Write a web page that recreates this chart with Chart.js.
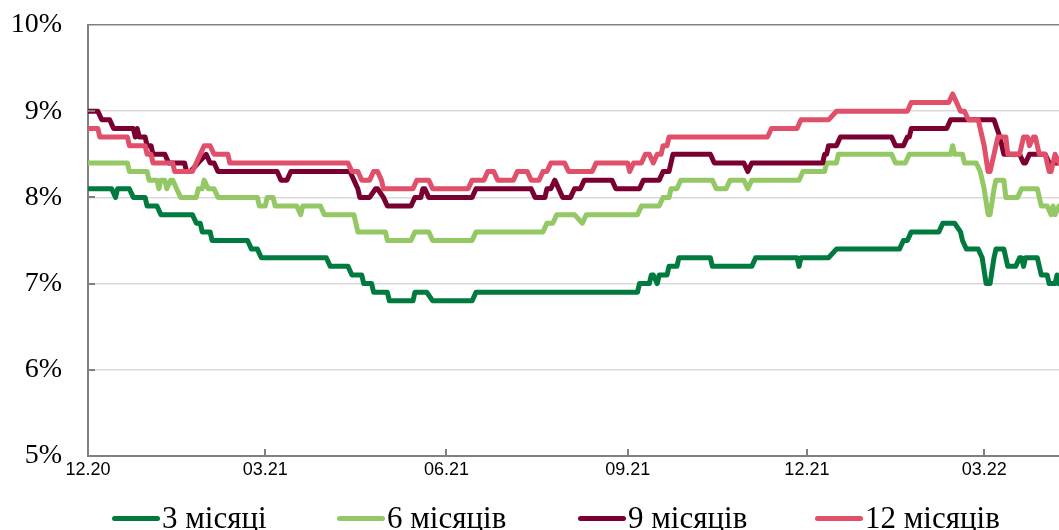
<!DOCTYPE html>
<html>
<head>
<meta charset="utf-8">
<script src="https://cdn.jsdelivr.net/npm/chart.js@4/dist/chart.umd.min.js"></script>
<style>
  html, body { margin: 0; padding: 0; background: #fff; overflow: hidden; }
  #wrap { position: relative; width: 1059px; height: 530px; }
  #legend .sw { position: absolute; width: 48px; height: 5px; border-radius: 3px; top: 516px; }
  #legend .tx { position: absolute; top: 500px; font-family: 'Liberation Serif', 'Times New Roman', serif; font-size: 31px; line-height: 36px; color: #000; white-space: nowrap; }
</style>
</head>
<body>
<div id="wrap">
  <canvas id="c" width="1059" height="530"></canvas>
  <div id="legend"></div>
</div>
<script>
// x values are days since 01.12.2020
const seriesNames = ['3 місяці', '6 місяців', '9 місяців', '12 місяців'];
const tickDays = [0, 90, 182, 274, 365, 455];
const tickLabels = ['12.20', '03.21', '06.21', '09.21', '12.21', '03.22'];
const yTicks = [5, 6, 7, 8, 9, 10];

const days3 = [0,12,14,15,21,23,29,30,35,37,53,55,57,58,62,63,81,83,86,88,121,123,132,134,139,140,144,145,152,153,165,166,172,175,195,197,279,280,285,286,287,289,290,294,295,299,300,316,317,337,339,360,361,362,376,380,412,414,416,418,432,434,440,443,444,446,452,454,456,458,460,461,465,467,471,473,474,475,476,482,484,487,488,491,492,493];
const rate3 = [8.1,8.1,8.0,8.1,8.1,8.0,8.0,7.9,7.9,7.8,7.8,7.7,7.7,7.6,7.6,7.5,7.5,7.4,7.4,7.3,7.3,7.2,7.2,7.1,7.1,7.0,7.0,6.9,6.9,6.8,6.8,6.9,6.9,6.8,6.8,6.9,6.9,7.0,7.0,7.1,7.1,7.0,7.1,7.1,7.2,7.2,7.3,7.3,7.2,7.2,7.3,7.3,7.2,7.3,7.3,7.4,7.4,7.5,7.5,7.6,7.6,7.7,7.7,7.6,7.5,7.4,7.4,7.3,7.0,7.0,7.3,7.4,7.4,7.2,7.2,7.3,7.3,7.2,7.3,7.3,7.1,7.1,7.0,7.0,7.1,7.0];

const days6 = [0,20,21,30,31,35,36,37,39,40,42,43,45,47,55,56,58,59,61,64,66,86,87,90,91,94,95,106,108,109,118,120,135,136,137,151,152,164,166,173,175,195,197,231,233,236,238,247,251,253,279,281,290,292,295,296,299,301,317,319,324,326,333,335,337,361,363,374,375,380,381,408,410,415,417,438,439,440,444,445,451,453,455,457,458,460,461,465,466,472,474,482,484,487,489,490,491,493];
const rate6 = [8.4,8.4,8.3,8.3,8.2,8.2,8.1,8.2,8.2,8.1,8.2,8.2,8.1,8.0,8.0,8.1,8.1,8.2,8.1,8.1,8.0,8.0,7.9,7.9,8.0,8.0,7.9,7.9,7.8,7.9,7.9,7.8,7.8,7.7,7.6,7.6,7.5,7.5,7.6,7.6,7.5,7.5,7.6,7.6,7.7,7.7,7.8,7.8,7.7,7.8,7.8,7.9,7.9,8.0,8.0,8.1,8.1,8.2,8.2,8.1,8.1,8.2,8.2,8.1,8.2,8.2,8.3,8.3,8.4,8.4,8.5,8.5,8.4,8.4,8.5,8.5,8.6,8.5,8.5,8.4,8.4,8.3,8.1,7.8,7.8,8.1,8.2,8.2,8.0,8.0,8.1,8.1,7.9,7.9,7.8,7.9,7.8,7.9];

const days9 = [0,5,7,11,13,23,24,25,26,29,30,32,33,39,41,49,50,52,56,60,62,64,66,96,98,101,103,133,135,137,138,143,146,147,150,152,164,166,169,170,171,173,195,197,225,227,232,233,235,237,239,241,245,247,250,252,266,268,280,282,290,292,295,297,316,318,333,335,337,373,374,375,376,380,382,408,410,414,416,417,418,436,438,460,463,465,473,475,476,478,486,488,493];
const rate9 = [9.0,9.0,8.9,8.9,8.8,8.8,8.7,8.8,8.7,8.7,8.6,8.6,8.5,8.5,8.4,8.4,8.3,8.3,8.4,8.5,8.4,8.4,8.3,8.3,8.2,8.2,8.3,8.3,8.2,8.1,8.0,8.0,8.1,8.1,8.0,7.9,7.9,8.0,8.0,8.1,8.1,8.0,8.0,8.1,8.1,8.0,8.0,8.1,8.1,8.2,8.1,8.0,8.0,8.1,8.1,8.2,8.2,8.1,8.1,8.2,8.2,8.3,8.3,8.5,8.5,8.4,8.4,8.3,8.4,8.4,8.5,8.5,8.6,8.6,8.7,8.7,8.6,8.6,8.7,8.7,8.8,8.8,8.9,8.9,8.7,8.5,8.5,8.4,8.4,8.5,8.5,8.4,8.4];

const days12 = [0,5,6,20,21,29,30,32,33,43,44,53,55,57,59,62,64,71,72,132,134,137,139,143,145,147,149,150,165,167,173,175,193,195,201,203,206,208,216,218,223,225,229,231,233,235,242,244,256,258,274,275,277,281,283,285,287,289,291,292,294,295,345,347,360,362,376,380,416,418,437,439,441,443,445,447,452,453,455,457,458,460,461,462,466,467,473,475,477,478,480,481,483,486,488,489,491,493];
const rate12 = [8.8,8.8,8.7,8.7,8.6,8.6,8.5,8.5,8.4,8.4,8.3,8.3,8.4,8.5,8.6,8.6,8.5,8.5,8.4,8.4,8.3,8.3,8.2,8.2,8.3,8.3,8.2,8.1,8.1,8.2,8.2,8.1,8.1,8.2,8.2,8.3,8.3,8.2,8.2,8.3,8.3,8.2,8.2,8.3,8.3,8.4,8.4,8.3,8.3,8.4,8.4,8.3,8.4,8.4,8.5,8.5,8.4,8.5,8.5,8.6,8.6,8.7,8.7,8.8,8.8,8.9,8.9,9.0,9.0,9.1,9.1,9.2,9.1,9.0,9.0,8.9,8.9,8.8,8.6,8.3,8.3,8.5,8.6,8.7,8.7,8.5,8.5,8.7,8.7,8.6,8.7,8.7,8.5,8.5,8.3,8.3,8.5,8.4];

const seriesDays = [days3, days6, days9, days12];
const seriesRates = [rate3, rate6, rate9, rate12];
const colors = ['#007A3E', '#93C865', '#7B0032', '#E0506A'];

const datasets = seriesNames.map((name, i) => ({
  label: name,
  data: seriesDays[i].map((d, j) => ({ x: d, y: seriesRates[i][j] })),
  borderColor: colors[i],
  backgroundColor: colors[i],
  borderWidth: 5,
  pointRadius: 0,
  tension: 0,
  borderJoinStyle: 'round',
  borderCapStyle: 'round',
  order: 4 - i
}));

const AXIS = '#808080';
const innerTicks = {
  id: 'innerTicks',
  afterDraw(chart) {
    const { ctx, chartArea: a, scales: { x, y } } = chart;
    ctx.save();
    ctx.strokeStyle = AXIS;
    ctx.lineWidth = 2;
    ctx.beginPath();
    yTicks.forEach(v => {
      if (v === 5 || v === 10) return;
      const py = Math.round(y.getPixelForValue(v));
      ctx.moveTo(a.left, py); ctx.lineTo(a.left + 7, py);
    });
    tickDays.forEach((d, i) => {
      if (i === 0) return;
      const px = Math.round(x.getPixelForValue(d));
      ctx.moveTo(px, a.bottom); ctx.lineTo(px, a.bottom - 7);
    });
    ctx.stroke();
    ctx.restore();
  }
};

new Chart(document.getElementById('c'), {
  type: 'line',
  data: { datasets },
  plugins: [innerTicks],
  options: {
    responsive: false,
    animation: false,
    devicePixelRatio: 1,
    layout: { padding: { top: 25, right: 0, bottom: 0, left: 0 } },
    plugins: { legend: { display: false }, tooltip: { enabled: false } },
    scales: {
      x: {
        type: 'linear',
        min: 0,
        max: 493,
        afterBuildTicks: s => { s.ticks = tickDays.map(v => ({ value: v })); },
        afterFit: s => { s.height = 74; s.paddingLeft = 0; s.paddingRight = 0; },
        grid: { display: false, drawTicks: false },
        border: { display: true, color: AXIS, width: 2 },
        ticks: {
          autoSkip: false,
          maxRotation: 0,
          padding: 3,
          color: '#000',
          font: { family: "'Liberation Sans', Arial, sans-serif", size: 18 },
          callback: (v, i) => tickLabels[i]
        }
      },
      y: {
        min: 5,
        max: 10,
        afterBuildTicks: s => { s.ticks = yTicks.map(v => ({ value: v })); },
        afterFit: s => { s.width = 88; s.paddingTop = 0; s.paddingBottom = 0; },
        grid: {
          drawTicks: false,
          lineWidth: 1.5,
          color: c => (c.tick && c.tick.value === 10) ? AXIS : (c.tick && c.tick.value === 5 ? 'rgba(0,0,0,0)' : '#D9D9D9')
        },
        border: { display: true, color: AXIS, width: 2 },
        ticks: {
          padding: 26,
          color: '#000',
          font: { family: "'Liberation Serif', 'Times New Roman', serif", size: 28 },
          callback: v => v + '%'
        }
      }
    }
  }
});

// legend (HTML text)
const legendSwatchX = [112, 337, 578, 815];
const lg = document.getElementById('legend');
seriesNames.forEach((name, i) => {
  const sw = document.createElement('div');
  sw.className = 'sw';
  sw.style.left = legendSwatchX[i] + 'px';
  sw.style.background = colors[i];
  lg.appendChild(sw);
  const tx = document.createElement('div');
  tx.className = 'tx';
  tx.style.left = (legendSwatchX[i] + 50) + 'px';
  tx.textContent = name;
  lg.appendChild(tx);
});
</script>
</body>
</html>
